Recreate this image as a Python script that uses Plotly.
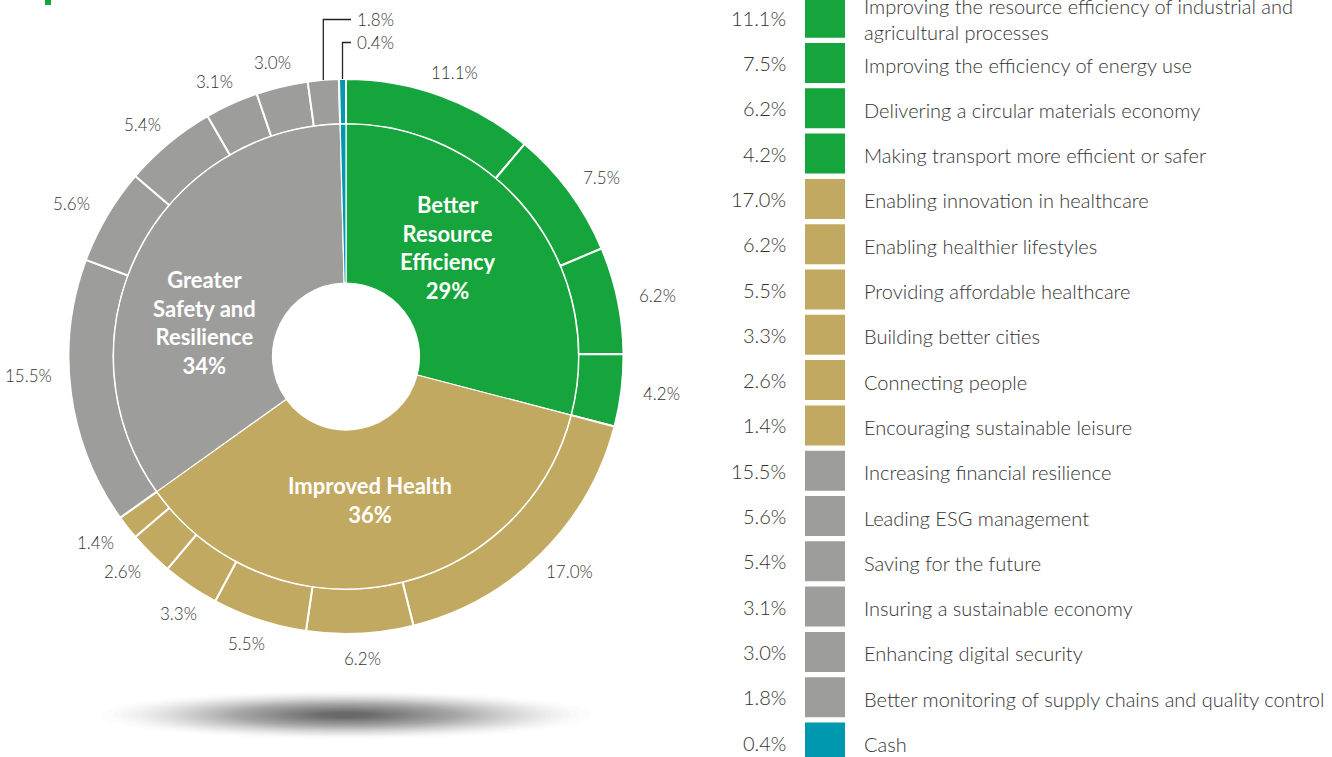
import math
import plotly.graph_objects as go

# ---------------- data ----------------
outer_labels = [
    "Improving the resource efficiency of industrial and<br>agricultural processes",
    "Improving the efficiency of energy use",
    "Delivering a circular materials economy",
    "Making transport more efficient or safer",
    "Enabling innovation in healthcare",
    "Enabling healthier lifestyles",
    "Providing affordable healthcare",
    "Building better cities",
    "Connecting people",
    "Encouraging sustainable leisure",
    "Increasing financial resilience",
    "Leading ESG management",
    "Saving for the future",
    "Insuring a sustainable economy",
    "Enhancing digital security",
    "Better monitoring of supply chains and quality control",
    "Cash",
]
outer_values = [11.1, 7.5, 6.2, 4.2, 17.0, 6.2, 5.5, 3.3, 2.6, 1.4,
                15.5, 5.6, 5.4, 3.1, 3.0, 1.8, 0.4]
outer_group = [0, 0, 0, 0, 1, 1, 1, 1, 1, 1, 2, 2, 2, 2, 2, 2, 3]

group_labels = ["Better<br>Resource<br>Efficiency", "Improved Health",
                "Greater<br>Safety and<br>Resilience", "Cash"]
group_pct_text = ["29%", "36%", "34%", ""]

# ---------------- style ----------------
group_colors = ["#15A53C", "#C2A961", "#9D9D9B", "#0098AE"]
W, H = 1332, 757
CX, CY = 346, 356.5
R_OUT, R_MID, R_HOLE = 277.5, 232.5, 73.5
TXT = "#333333"
FONT = "Lato"
LIGHT = 300

def px(x):
    return x / W

def py(y):
    return 1 - y / H

group_values = [round(sum(v for v, g in zip(outer_values, outer_group) if g == k), 2)
                for k in range(len(group_labels))]
outer_colors = [group_colors[g] for g in outer_group]
total = sum(outer_values)

fig = go.Figure()

fig.add_trace(go.Pie(
    values=outer_values, labels=[f"o{i}" for i in range(len(outer_values))],
    marker=dict(colors=outer_colors, line=dict(color="white", width=2)),
    hole=R_MID / R_OUT, sort=False, direction="clockwise", rotation=0,
    textinfo="none", hoverinfo="skip", showlegend=False,
    domain=dict(x=[px(CX - R_OUT), px(CX + R_OUT)], y=[py(CY + R_OUT), py(CY - R_OUT)]),
))
fig.add_trace(go.Pie(
    values=group_values, labels=[f"g{i}" for i in range(len(group_values))],
    marker=dict(colors=group_colors, line=dict(color="white", width=1.2)),
    hole=R_HOLE / R_MID, sort=False, direction="clockwise", rotation=0,
    textinfo="none", hoverinfo="skip", showlegend=False,
    domain=dict(x=[px(CX - R_MID), px(CX + R_MID)], y=[py(CY + R_MID), py(CY - R_MID)]),
))

annotations = []
shapes = []

# outer percentage labels
RX, RY = 318, 302
label_nudge_deg = {7: -2.4, 10: 3.9}
callout_idx = [15, 16]
callout_y = [19.5, 42.5]
cum = 0.0
for i, v in enumerate(outer_values):
    mid_deg = (cum + v / 2) / total * 360
    cum += v
    mid = math.radians(mid_deg)
    if i in callout_idx:
        k = callout_idx.index(i)
        x0 = CX + R_OUT * math.sin(mid)
        y0 = CY - R_OUT * math.cos(mid)
        ty = callout_y[k]
        shapes.append(dict(type="path", xref="paper", yref="paper",
                           path=f"M {px(x0)} {py(y0)} L {px(x0)} {py(ty)} L {px(351)} {py(ty)}",
                           line=dict(color="#222", width=1.3)))
        annotations.append(dict(x=px(355), y=py(ty), xref="paper", yref="paper",
                                text=f"{v:.1f}%", showarrow=False, xanchor="left",
                                yanchor="middle",
                                font=dict(family=FONT, size=17, color=TXT, weight=LIGHT)))
        continue
    a = math.radians(mid_deg + label_nudge_deg.get(i, 0))
    x = CX + RX * math.sin(a)
    y = CY - RY * math.cos(a)
    annotations.append(dict(x=px(x), y=py(y), xref="paper", yref="paper",
                            text=f"{v:.1f}%", showarrow=False, xanchor="center",
                            yanchor="middle",
                            font=dict(family=FONT, size=17, color=TXT, weight=LIGHT)))

# inner group labels (angle shift, radius)
inner_pos = [(-9.2, 149), (1.0, 145), (-13.0, 146)]
cum = 0.0
gtotal = sum(group_values)
for k, v in enumerate(group_values):
    mid = (cum + v / 2) / gtotal * 360
    cum += v
    if k >= len(inner_pos):
        continue
    a = math.radians(mid + inner_pos[k][0])
    r = inner_pos[k][1]
    x = CX + r * math.sin(a)
    y = CY - r * math.cos(a)
    annotations.append(dict(x=px(x), y=py(y), xref="paper", yref="paper",
                            text=f"<b>{group_labels[k]}<br>{group_pct_text[k]}</b>",
                            showarrow=False, xanchor="center", yanchor="middle",
                            font=dict(family=FONT, size=22, color="white")))

# legend table
ROW0, STEP = 17.7, 45.3
for i, (lab, v) in enumerate(zip(outer_labels, outer_values)):
    yc = ROW0 + STEP * i
    shapes.append(dict(type="rect", xref="paper", yref="paper",
                       x0=px(805), x1=px(845), y0=py(yc + 20), y1=py(yc - 20),
                       fillcolor=outer_colors[i], line=dict(width=0)))
    annotations.append(dict(x=px(788), y=py(yc), xref="paper", yref="paper",
                            text=f"{v:.1f}%", showarrow=False, xanchor="right",
                            yanchor="middle",
                            font=dict(family=FONT, size=20, color=TXT, weight=LIGHT)))
    annotations.append(dict(x=px(862), y=py(yc + 1.5), xref="paper", yref="paper",
                            text=lab, showarrow=False, xanchor="left", align="left",
                            yanchor="middle",
                            font=dict(family=FONT, size=20, color=TXT, weight=LIGHT)))

# soft shadow below the donut
N = 60
for j in range(N):
    t = (j / (N - 1)) ** 0.7
    hw = 245 - 220 * t
    hh = 24 - 21 * t
    shapes.append(dict(type="circle", xref="paper", yref="paper", layer="below",
                       x0=px(CX - hw), x1=px(CX + hw), y0=py(715 + hh), y1=py(715 - hh),
                       fillcolor="rgba(0,0,0,0.012)", line=dict(width=0)))

# fragment of green title at top left
shapes.append(dict(type="rect", xref="paper", yref="paper", x0=px(45), x1=px(51),
                   y0=py(5), y1=py(0), fillcolor="#15A53C", line=dict(width=0)))

fig.update_layout(
    width=W, height=H, autosize=False,
    margin=dict(l=0, r=0, t=0, b=0),
    paper_bgcolor="white", plot_bgcolor="white",
    annotations=annotations, shapes=shapes,
    font=dict(family=FONT, color=TXT),
)

fig.write_html("out.html", config={"displayModeBar": False},
               post_script="document.body.style.margin='0';document.body.style.overflow='hidden';")
